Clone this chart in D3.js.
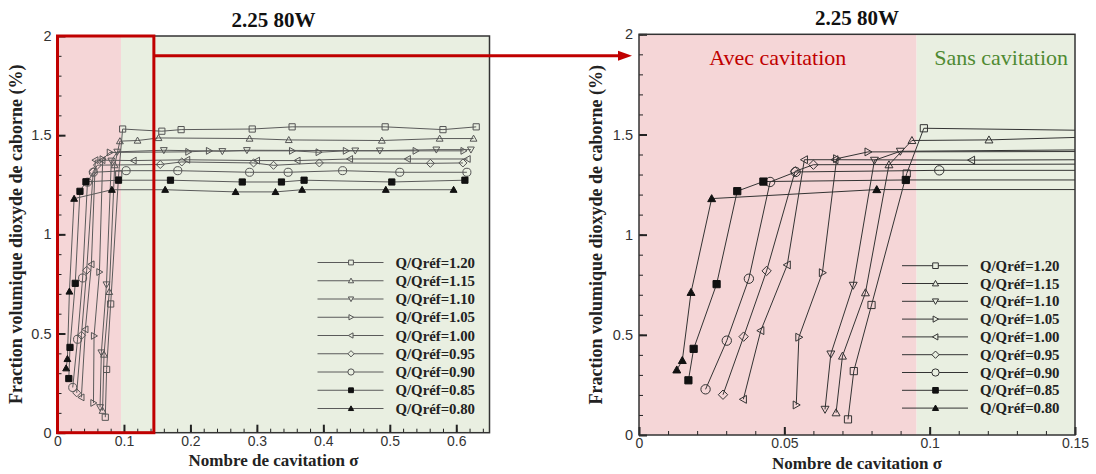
<!DOCTYPE html>
<html>
<head>
<meta charset="utf-8">
<script src="https://cdn.jsdelivr.net/npm/d3@7"></script>
<style>
  html, body { margin: 0; padding: 0; background: #fff; }
  svg { display: block; }
</style>
</head>
<body>
<svg id="chart" width="1096" height="474"></svg>
<script>
// Fraction volumique de CO2 en fonction du nombre de cavitation, par débit relatif
const seriesLabels = ["Q/Qréf=1.20", "Q/Qréf=1.15", "Q/Qréf=1.10", "Q/Qréf=1.05", "Q/Qréf=1.00",
                      "Q/Qréf=0.95", "Q/Qréf=0.90", "Q/Qréf=0.85", "Q/Qréf=0.80"];

const sigma_120 = [0.0719, 0.0739, 0.0800, 0.0921, 0.0980, 0.157, 0.186, 0.293, 0.353, 0.493, 0.580, 0.630];
const frac_120  = [0.078, 0.319, 0.649, 1.305, 1.531, 1.520, 1.528, 1.531, 1.542, 1.542, 1.528, 1.542];

const sigma_115 = [0.0678, 0.0700, 0.0779, 0.0860, 0.0939, 0.1204, 0.152, 0.289, 0.348, 0.488, 0.575, 0.626];
const frac_115  = [0.111, 0.394, 0.710, 1.349, 1.470, 1.473, 1.486, 1.483, 1.476, 1.473, 1.483, 1.483];

const sigma_110 = [0.0640, 0.0660, 0.0737, 0.0810, 0.0899, 0.160, 0.248, 0.285, 0.448, 0.485, 0.570, 0.622];
const frac_110  = [0.128, 0.404, 0.747, 1.371, 1.416, 1.424, 1.419, 1.424, 1.422, 1.422, 1.427, 1.427];

const sigma_105 = [0.0541, 0.0550, 0.0631, 0.0680, 0.0788, 0.197, 0.228, 0.353, 0.393, 0.434, 0.539, 0.611];
const frac_105  = [0.150, 0.488, 0.810, 1.379, 1.413, 1.416, 1.421, 1.421, 1.414, 1.421, 1.421, 1.421];

const sigma_100 = [0.0359, 0.0419, 0.0510, 0.0569, 0.0674, 0.1144, 0.195, 0.300, 0.361, 0.440, 0.527, 0.617];
const frac_100  = [0.178, 0.521, 0.849, 1.374, 1.374, 1.372, 1.376, 1.372, 1.372, 1.380, 1.380, 1.380];

const sigma_095 = [0.0289, 0.0360, 0.0439, 0.0537, 0.0600, 0.1546, 0.187, 0.295, 0.325, 0.394, 0.561, 0.610];
const frac_095  = [0.201, 0.491, 0.819, 1.316, 1.349, 1.352, 1.365, 1.360, 1.348, 1.360, 1.358, 1.360];

const sigma_090 = [0.0229, 0.0302, 0.0378, 0.0451, 0.0539, 0.1033, 0.181, 0.289, 0.347, 0.429, 0.515, 0.616];
const frac_090  = [0.228, 0.471, 0.780, 1.263, 1.313, 1.321, 1.321, 1.313, 1.313, 1.321, 1.313, 1.313];

const sigma_085 = [0.0170, 0.0188, 0.0267, 0.0338, 0.0428, 0.0918, 0.170, 0.278, 0.337, 0.371, 0.503, 0.613];
const frac_085  = [0.273, 0.430, 0.753, 1.217, 1.265, 1.273, 1.273, 1.264, 1.264, 1.273, 1.264, 1.273];

const sigma_080 = [0.0130, 0.0149, 0.0179, 0.0250, 0.0818, 0.162, 0.268, 0.328, 0.368, 0.494, 0.596];
const frac_080  = [0.325, 0.372, 0.712, 1.180, 1.225, 1.225, 1.214, 1.214, 1.225, 1.225, 1.225];

// Limite entre régime avec et sans cavitation
const sigmaLimit = 0.0955;
// Zone agrandie dans le second graphique
const zoomSigma = 0.145;

const yTicks = [0, 0.5, 1, 1.5, 2];
const yTickLabels = ["0", "0.5", "1", "1.5", "2"];
const xTicksLeft = [0, 0.1, 0.2, 0.3, 0.4, 0.5, 0.6];
const xTickLabelsLeft = ["0", "0.1", "0.2", "0.3", "0.4", "0.5", "0.6"];
const xTicksRight = [0, 0.05, 0.1, 0.15];
const xTickLabelsRight = ["0", "0.05", "0.1", "0.15"];

const titleText = "2.25 80W";
const xLabel = "Nombre de cavitation σ";
const yLabel = "Fraction volumique dioxyde de caborne (%)";

const sigmas = [sigma_120, sigma_115, sigma_110, sigma_105, sigma_100, sigma_095, sigma_090, sigma_085, sigma_080];
const fracs  = [frac_120, frac_115, frac_110, frac_105, frac_100, frac_095, frac_090, frac_085, frac_080];
const shapes = ["square", "triUp", "triDown", "triRight", "triLeft", "diamond", "circle", "squareFill", "triUpFill"];

const series = seriesLabels.map((label, i) => ({
  label, shape: shapes[i],
  points: sigmas[i].map((s, j) => ({ s, v: fracs[i][j] }))
}));

function markerPath(shape, r) {
  switch (shape) {
    case "square": case "squareFill":
      return `M${-r},${-r}H${r}V${r}H${-r}Z`;
    case "triUp": case "triUpFill":
      return `M0,${-r * 1.1}L${r * 1.1},${r * 0.85}L${-r * 1.1},${r * 0.85}Z`;
    case "triDown":
      return `M0,${r * 1.1}L${r * 1.1},${-r * 0.85}L${-r * 1.1},${-r * 0.85}Z`;
    case "triRight":
      return `M${r * 1.1},0L${-r * 0.85},${r * 1.1}L${-r * 0.85},${-r * 1.1}Z`;
    case "triLeft":
      return `M${-r * 1.1},0L${r * 0.85},${r * 1.1}L${r * 0.85},${-r * 1.1}Z`;
    case "diamond":
      return `M0,${-r * 1.3}L${r * 1.3},0L0,${r * 1.3}L${-r * 1.3},0Z`;
    case "circle": {
      const c = r * 1.3;
      return `M${c},0A${c},${c},0,1,1,${-c},0A${c},${c},0,1,1,${c},0Z`;
    }
  }
}
const isFilled = s => s.endsWith("Fill");

const svg = d3.select("#chart");
const serif = "'Liberation Serif', 'Times New Roman', serif";
const sans = "'Liberation Sans', Arial, sans-serif";
const pink = "#f5d6d7";
const green = "#e9efe1";
const red = "#c00000";

const panels = [
  {
    id: "left", left: 57.5, right: 489.5, top: 36, bottom: 432.7,
    xDomain: [0, 0.65], xTicks: xTicksLeft, xTickLabels: xTickLabelsLeft, xMinorStep: 0.02,
    markerR: 3.1, lineColor: "#5a5a5a", markerColor: "#555",
    titleY: 26.5, xLabelY: 466, yLabelX: 22,
    legend: { x1: 317.5, x2: 383.5, xm: 351, xt: 395.5, y0: 262.5, dy: 18.25, r: 2.4 }
  },
  {
    id: "right", left: 639, right: 1075, top: 34.3, bottom: 435,
    xDomain: [0, 0.15], xTicks: xTicksRight, xTickLabels: xTickLabelsRight, xMinorStep: 0.01,
    markerR: 3.6, lineColor: "#333", markerColor: "#333",
    titleY: 25, xLabelY: 469, yLabelX: 602,
    legend: { x1: 902, x2: 968, xm: 935.5, xt: 980, y0: 265.7, dy: 17.8, r: 2.8 },
    zones: true
  }
];

panels.forEach(p => {
  const x = d3.scaleLinear().domain(p.xDomain).range([p.left, p.right]);
  const y = d3.scaleLinear().domain([0, 2]).range([p.bottom, p.top]);
  p.x = x; p.y = y;
  const g = svg.append("g").attr("class", "panel-" + p.id);

  // Fond : zone avec cavitation (rose) puis sans cavitation (vert)
  g.append("rect")
    .attr("x", x(0)).attr("y", y(2))
    .attr("width", x(sigmaLimit) - x(0)).attr("height", y(0) - y(2))
    .attr("fill", pink);
  g.append("rect")
    .attr("x", x(sigmaLimit)).attr("y", y(2))
    .attr("width", x(p.xDomain[1]) - x(sigmaLimit)).attr("height", y(0) - y(2))
    .attr("fill", green);

  const clipId = "clip-" + p.id;
  svg.append("clipPath").attr("id", clipId)
    .append("rect")
    .attr("x", x(0)).attr("y", y(2))
    .attr("width", x(p.xDomain[1]) - x(0)).attr("height", y(0) - y(2));

  const plot = g.append("g").attr("clip-path", `url(#${clipId})`);
  const line = d3.line().x(d => x(d.s)).y(d => y(d.v));

  series.forEach(s => {
    plot.append("path")
      .datum(s.points)
      .attr("d", line)
      .attr("fill", "none")
      .attr("stroke", p.lineColor)
      .attr("stroke-width", 1);
  });
  series.forEach(s => {
    plot.selectAll(null)
      .data(s.points.filter(d => d.s <= p.xDomain[1] + 0.01))
      .join("path")
      .attr("transform", d => `translate(${x(d.s)},${y(d.v)})`)
      .attr("d", markerPath(s.shape, p.markerR))
      .attr("fill", isFilled(s.shape) ? "#111" : "none")
      .attr("stroke", isFilled(s.shape) ? "#111" : p.markerColor)
      .attr("stroke-width", 1);
  });

  // Axes : graduations vers l'intérieur
  const xMinor = d3.range(0, p.xDomain[1] + 1e-9, p.xMinorStep);
  const yMinor = d3.range(0, 2 + 1e-9, 0.1);

  const axX = g.append("g").attr("transform", `translate(0,${y(0)})`)
    .call(d3.axisBottom(x).tickValues(xMinor).tickSize(-4).tickSizeOuter(0).tickFormat(""));
  axX.select(".domain").remove();
  axX.selectAll("line").attr("stroke", "#222").attr("stroke-width", 1);

  const axXM = g.append("g").attr("transform", `translate(0,${y(0)})`)
    .call(d3.axisBottom(x).tickValues(p.xTicks).tickSize(-8).tickSizeOuter(0).tickPadding(3)
      .tickFormat((d, i) => p.xTickLabels[i]));
  axXM.select(".domain").remove();
  axXM.selectAll("line").attr("stroke", "#222").attr("stroke-width", 2);
  axXM.selectAll("text").attr("font-family", sans).attr("font-size", 14).attr("fill", "#333");

  const axY = g.append("g").attr("transform", `translate(${x(0)},0)`)
    .call(d3.axisLeft(y).tickValues(yMinor).tickSize(-4).tickSizeOuter(0).tickFormat(""));
  axY.select(".domain").remove();
  axY.selectAll("line").attr("stroke", "#222").attr("stroke-width", 1);

  const axYM = g.append("g").attr("transform", `translate(${x(0)},0)`)
    .call(d3.axisLeft(y).tickValues(yTicks).tickSize(-8).tickSizeOuter(0).tickPadding(6)
      .tickFormat((d, i) => yTickLabels[i]));
  axYM.select(".domain").remove();
  axYM.selectAll("line").attr("stroke", "#222").attr("stroke-width", 2);
  axYM.selectAll("text").attr("font-family", sans).attr("font-size", 14.5).attr("fill", "#333");

  // Cadre
  g.append("rect")
    .attr("x", x(0)).attr("y", y(2))
    .attr("width", x(p.xDomain[1]) - x(0)).attr("height", y(0) - y(2))
    .attr("fill", "none").attr("stroke", "#333").attr("stroke-width", 1.5);

  // Légende
  const L = p.legend;
  series.forEach((s, i) => {
    const ly = L.y0 + i * L.dy;
    g.append("line")
      .attr("x1", L.x1).attr("x2", L.x2).attr("y1", ly).attr("y2", ly)
      .attr("stroke", p.lineColor).attr("stroke-width", 1);
    g.append("path")
      .attr("transform", `translate(${L.xm},${ly})`)
      .attr("d", markerPath(s.shape, L.r))
      .attr("fill", isFilled(s.shape) ? "#111" : green)
      .attr("stroke", isFilled(s.shape) ? "#111" : p.markerColor)
      .attr("stroke-width", 1);
    g.append("text")
      .attr("x", L.xt).attr("y", ly + 5)
      .attr("font-family", serif).attr("font-weight", "bold").attr("font-size", 14.8)
      .attr("fill", "#222")
      .text(s.label);
  });

  // Titres
  const cx = (x(0) + x(p.xDomain[1])) / 2;
  g.append("text")
    .attr("x", cx).attr("y", p.titleY).attr("text-anchor", "middle")
    .attr("font-family", serif).attr("font-weight", "bold").attr("font-size", 21)
    .attr("fill", "#111").text(titleText);
  g.append("text")
    .attr("x", cx).attr("y", p.xLabelY).attr("text-anchor", "middle")
    .attr("font-family", serif).attr("font-weight", "bold").attr("font-size", 17)
    .attr("fill", "#222").text(xLabel);
  g.append("text")
    .attr("transform", `translate(${p.yLabelX},${(y(0) + y(2)) / 2}) rotate(-90)`)
    .attr("text-anchor", "middle")
    .attr("font-family", serif).attr("font-weight", "bold").attr("font-size", 18)
    .attr("fill", "#222").text(yLabel);

  if (p.zones) {
    g.append("text")
      .attr("x", (x(0) + x(sigmaLimit)) / 2).attr("y", 65).attr("text-anchor", "middle")
      .attr("font-family", serif).attr("font-size", 22).attr("fill", red)
      .text("Avec cavitation");
    g.append("text")
      .attr("x", x(p.xDomain[1]) - 7).attr("y", 65).attr("text-anchor", "end")
      .attr("font-family", serif).attr("font-size", 22).attr("fill", "#4f8a32")
      .text("Sans cavitation");
  }
});

// Cadre rouge de la zone agrandie et flèche vers le second graphique
const pl = panels[0], pr = panels[1];
svg.append("rect")
  .attr("x", pl.x(0)).attr("y", pl.y(2))
  .attr("width", pl.x(zoomSigma) - pl.x(0)).attr("height", pl.y(0) - pl.y(2))
  .attr("fill", "none").attr("stroke", red).attr("stroke-width", 3);

const ay = pl.y(1.9);
const tipX = pr.x(0) - 7;
svg.append("line")
  .attr("x1", pl.x(zoomSigma)).attr("x2", tipX - 10)
  .attr("y1", ay).attr("y2", ay)
  .attr("stroke", red).attr("stroke-width", 3);
svg.append("path")
  .attr("d", `M${tipX},${ay}L${tipX - 14},${ay - 5}L${tipX - 14},${ay + 5}Z`)
  .attr("fill", red);
</script>
</body>
</html>
